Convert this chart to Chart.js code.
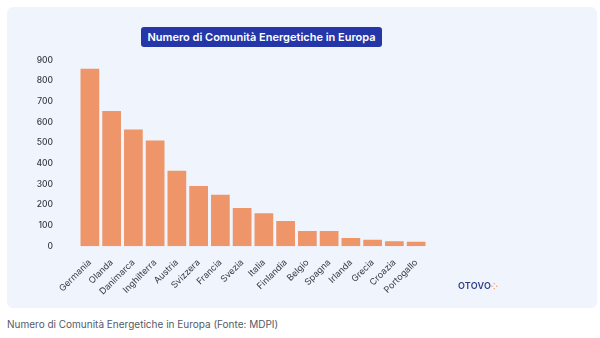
<!DOCTYPE html>
<html>
<head>
<meta charset="utf-8">
<script src="https://cdn.jsdelivr.net/npm/chart.js@4"></script>
<style>
  body { margin: 0; background: #ffffff; width: 600px; height: 338px; position: relative; overflow: hidden; font-family: "Inter", "Lato", sans-serif; }
  #panel { position: absolute; left: 7px; top: 7px; width: 590px; height: 301px; background: #eff4fd; border-radius: 6px; }
  #chartBox { position: absolute; left: 0; top: 0; width: 590px; height: 301px; }
  #title { position: absolute; left: 134px; top: 20px; width: 241px; height: 20px; background: #2536a8; color: #fff; border-radius: 3px;
           font: 600 11px "Inter", sans-serif; line-height: 20px; text-align: center; white-space: nowrap; }
  #logo { position: absolute; left: 451px; top: 273px; font: 600 9px "Inter", sans-serif; color: #2e3c86; letter-spacing: 0.2px; }
  #logo span { color: #f08a5a; font-size: 8px; }
  #caption { position: absolute; left: 7px; top: 318px; font: 400 10px "Inter", sans-serif; color: #555a66; }
</style>
</head>
<body>
<div id="panel">
  <div id="chartBox"><canvas id="euChart"></canvas></div>
  <div id="title">Numero di Comunità Energetiche in Europa</div>
  <div id="logo">OTOVO<span>⁘</span></div>
</div>
<div id="caption">Numero di Comunità Energetiche in Europa (Fonte: MDPI)</div>
<script>
  // Data
  const countries = ['Germania', 'Olanda', 'Danimarca', 'Inghilterra', 'Austria', 'Svizzera', 'Francia', 'Svezia',
                     'Italia', 'Finlandia', 'Belgio', 'Spagna', 'Irlanda', 'Grecia', 'Croazia', 'Portogallo'];
  const communities = [858, 653, 564, 511, 365, 291, 249, 185, 159, 122, 74, 74, 39, 31, 24, 21];
  const yTicks = [0, 100, 200, 300, 400, 500, 600, 700, 800, 900];

  const euChartCtx = document.getElementById('euChart').getContext('2d');
  const euChart = new Chart(euChartCtx, {
      type: 'bar',
      data: {
          labels: countries,
          datasets: [{
              label: 'Comunità Energetiche',
              backgroundColor: '#ee9569',
              data: communities,
              barPercentage: 0.86,
              categoryPercentage: 1
          }]
      },
      options: {
          responsive: true,
          maintainAspectRatio: false,
          animation: false,
          layout: { padding: { left: 0, right: 170, top: 53, bottom: 8 } },
          plugins: { legend: { display: false }, tooltip: { enabled: false } },
          scales: {
              x: {
                  grid: { display: false },
                  border: { display: false },
                  ticks: {
                      minRotation: 45, maxRotation: 45, autoSkip: false, padding: 3,
                      color: '#333a44', font: { family: 'Inter', size: 9 }
                  }
              },
              y: {
                  min: 0, max: 900,
                  grid: { display: false },
                  border: { display: false },
                  afterFit: (scale) => { scale.width = 72; },
                  afterBuildTicks: (scale) => { scale.ticks = yTicks.map(v => ({ value: v })); },
                  ticks: {
                      padding: 18, color: '#333a44', font: { family: 'Inter', size: 8.5, weight: 500 }
                  }
              }
          }
      }
  });
</script>
</body>
</html>
